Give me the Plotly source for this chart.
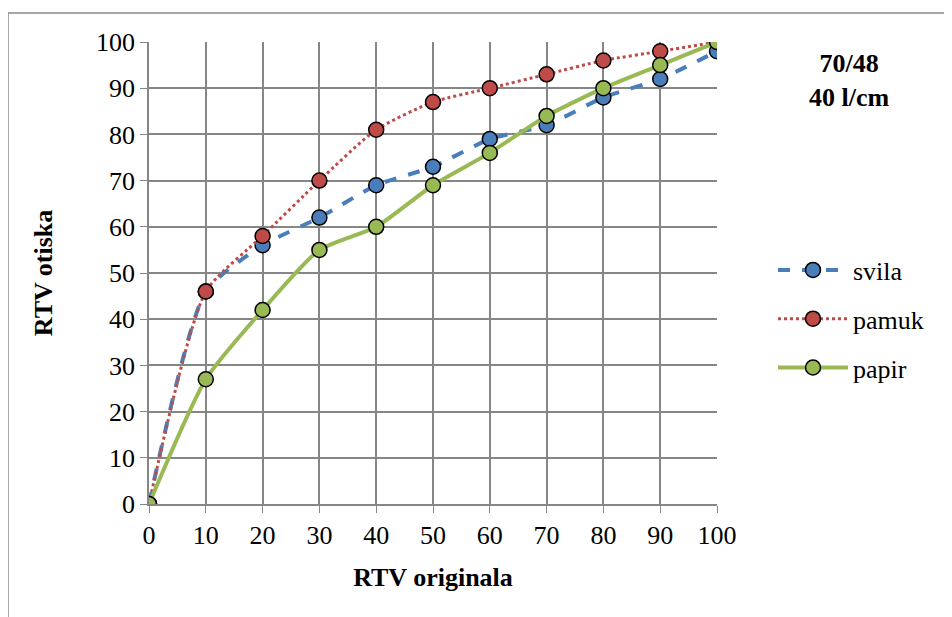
import plotly.graph_objects as go

x_vals = [0, 10, 20, 30, 40, 50, 60, 70, 80, 90, 100]
svila = [0, 46, 56, 62, 69, 73, 79, 82, 88, 92, 98]
pamuk = [0, 46, 58, 70, 81, 87, 90, 93, 96, 98, 100]
papir = [0, 27, 42, 55, 60, 69, 76, 84, 90, 95, 100]
series_names = ["svila", "pamuk", "papir"]

FONT = "Liberation Serif"
FS = 26

fig = go.Figure()
styles = [
    (svila, "#4A7EBB", "dash", 4),
    (pamuk, "#BE4B48", "dot", 3),
    (papir, "#98B954", "solid", 4),
]
for name, (vals, col, dash, w) in zip(series_names, styles):
    fig.add_trace(go.Scatter(
        x=x_vals, y=vals, name=name, mode="lines+markers", legendgroup=name,
        line=dict(color=col, dash=dash, width=w, shape="spline", smoothing=0.6),
        marker=dict(size=15, color=col, line=dict(color="black", width=1.5)),
    ))

L, T = 141, 34
PW, PH = 568, 462

fig.update_layout(
    width=952, height=617,
    margin=dict(l=L, r=952 - L - PW, t=T, b=617 - T - PH),
    paper_bgcolor="white", plot_bgcolor="white",
    font=dict(family=FONT, size=FS, color="black"),
    showlegend=True,
    legend=dict(x=(772 - 716) / PW + 1, y=(503 - 318) / PH, xanchor="left", yanchor="middle",
                font=dict(family=FONT, size=FS), tracegroupgap=12,
                itemwidth=70, bgcolor="rgba(0,0,0,0)"),
    xaxis=dict(range=[0, 100], tickvals=x_vals, ticks="outside", ticklen=7,
               tickcolor="#868686", showgrid=True, gridcolor="#868686", gridwidth=1.5,
               showline=True, linecolor="#868686", linewidth=1.5, zeroline=False,
               title=dict(text="<b>RTV originala</b>", font=dict(family=FONT, size=FS), standoff=19),
               tickfont=dict(family=FONT, size=FS)),
    yaxis=dict(range=[0, 100], tickvals=list(range(0, 101, 10)), ticks="outside", ticklen=7,
               tickcolor="#868686", showgrid=True, gridcolor="#868686", gridwidth=1.5,
               showline=True, linecolor="#868686", linewidth=1.5, zeroline=False,
               title=dict(text="<b>RTV otiska</b>", font=dict(family=FONT, size=FS), standoff=36),
               tickfont=dict(family=FONT, size=FS)),
    annotations=[dict(xref="paper", yref="paper", x=(848 - 148) / PW, y=(503 - 80) / PH,
                      xanchor="center", yanchor="middle",
                      text="<b>70/48<br>40 l/cm</b>", showarrow=False,
                      font=dict(family=FONT, size=FS))],
    shapes=[dict(type="rect", xref="paper", yref="paper",
                 x0=(7 - 148) / PW, x1=(965 - 148) / PW,
                 y0=(503 - 630) / PH, y1=(503 - 12) / PH,
                 line=dict(color="#8C8C8C", width=1.5), layer="below")],
)
fig.write_html("out.html")
